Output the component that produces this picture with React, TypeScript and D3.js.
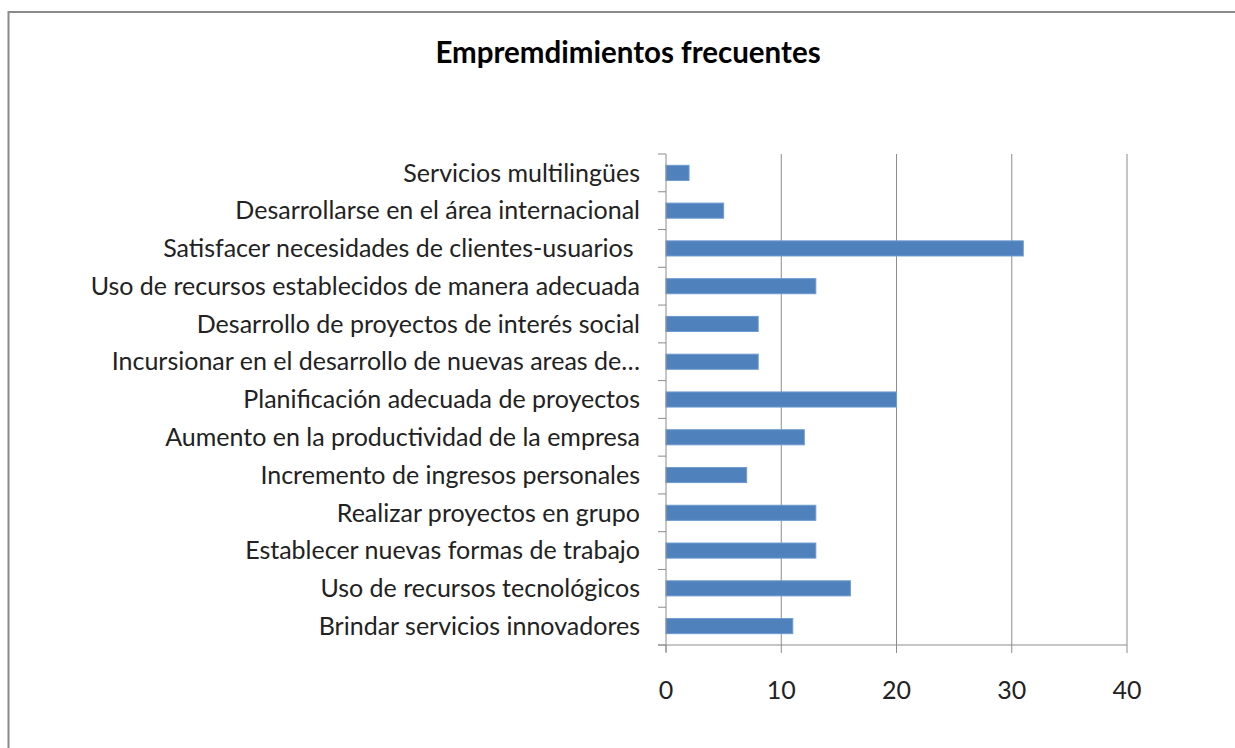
import React, { useEffect } from 'react';
import * as d3 from 'd3';

// categories listed top to bottom, as they appear in the chart
const categories = [
  'Servicios multilingües',
  'Desarrollarse en el área internacional',
  'Satisfacer necesidades de clientes-usuarios ',
  'Uso de recursos establecidos de manera adecuada',
  'Desarrollo de proyectos de interés social',
  'Incursionar en el desarrollo de nuevas areas de…',
  'Planificación adecuada de proyectos',
  'Aumento en la productividad de la empresa',
  'Incremento de ingresos personales',
  'Realizar proyectos en grupo',
  'Establecer nuevas formas de trabajo',
  'Uso de recursos tecnológicos',
  'Brindar servicios innovadores',
];
const values = [2, 5, 31, 13, 8, 8, 20, 12, 7, 13, 13, 16, 11];
const xTicks = [0, 10, 20, 30, 40];
const title = 'Empremdimientos frecuentes';

const W = 1235;
const H = 748;
const plot = { left: 666, right: 1127, top: 154, bottom: 645 };
const font = 'Lato, "Open Sans", sans-serif';
const gridColor = '#8c8c8c';

const App = () => {
  // no page margin / scrollbars, the svg fills the window
  useEffect(() => {
    document.body.style.margin = '0';
    document.body.style.overflow = 'hidden';
    document.documentElement.style.overflow = 'hidden';
  }, []);

  const x = d3.scaleLinear().domain([0, 40]).range([plot.left, plot.right]);
  const y = d3.scaleBand<string>()
    .domain(categories)
    .range([plot.top, plot.bottom])
    .paddingInner(0.6)
    .paddingOuter(0.3);
  const step = y.step();
  const bandEdges = d3.range(categories.length + 1).map(i => plot.top + i * step);

  return (
    <svg width={W} height={H} style={{ display: 'block', background: '#fff' }}>
      {/* outer chart border: only top and left edges are inside the picture */}
      <line x1={8.5} x2={W + 10} y1={12} y2={12} stroke="#8a8a8a" strokeWidth={2} />
      <line x1={8.5} x2={8.5} y1={11} y2={H + 10} stroke="#8a8a8a" strokeWidth={2} />

      <text x={628} y={63} textAnchor="middle" fontFamily={font} fontWeight="bold" fontSize={29.5} fill="#000">
        {title}
      </text>

      {/* vertical gridlines */}
      {xTicks.filter(t => t > 0).map(t => (
        <line key={'g' + t} x1={x(t)} x2={x(t)} y1={plot.top} y2={plot.bottom} stroke={gridColor} strokeWidth={1} />
      ))}

      {/* bars */}
      {categories.map((c, i) => (
        <rect
          key={c}
          x={x(0)}
          y={y(c)}
          width={x(values[i]) - x(0)}
          height={y.bandwidth()}
          fill="#4f81bd"
          stroke="#6f9bd0"
          strokeWidth={1}
        />
      ))}

      {/* y axis line + ticks at band edges */}
      <line x1={x(0)} x2={x(0)} y1={plot.top} y2={plot.bottom + 7} stroke={gridColor} strokeWidth={1} />
      {bandEdges.map((e, i) => (
        <line key={'yt' + i} x1={x(0) - 8} x2={x(0)} y1={e} y2={e} stroke={gridColor} strokeWidth={1} />
      ))}

      {/* x axis line + ticks */}
      <line x1={x(0) - 8} x2={x(40)} y1={plot.bottom} y2={plot.bottom} stroke={gridColor} strokeWidth={1} />
      {xTicks.map(t => (
        <line key={'xt' + t} x1={x(t)} x2={x(t)} y1={plot.bottom} y2={plot.bottom + 8} stroke={gridColor} strokeWidth={1} />
      ))}
      {xTicks.map(t => (
        <text key={'xl' + t} x={x(t)} y={699} textAnchor="middle" fontFamily={font} fontSize={25} fill="#222">
          {t}
        </text>
      ))}

      {/* category labels */}
      {categories.map(c => (
        <text
          key={'l' + c}
          x={640}
          y={(y(c) ?? 0) + y.bandwidth() / 2}
          dy="0.35em"
          textAnchor="end"
          fontFamily={font}
          fontSize={25}
          fill="#222"
          style={{ whiteSpace: 'pre' }}
        >
          {c}
        </text>
      ))}
    </svg>
  );
};

export default App;
